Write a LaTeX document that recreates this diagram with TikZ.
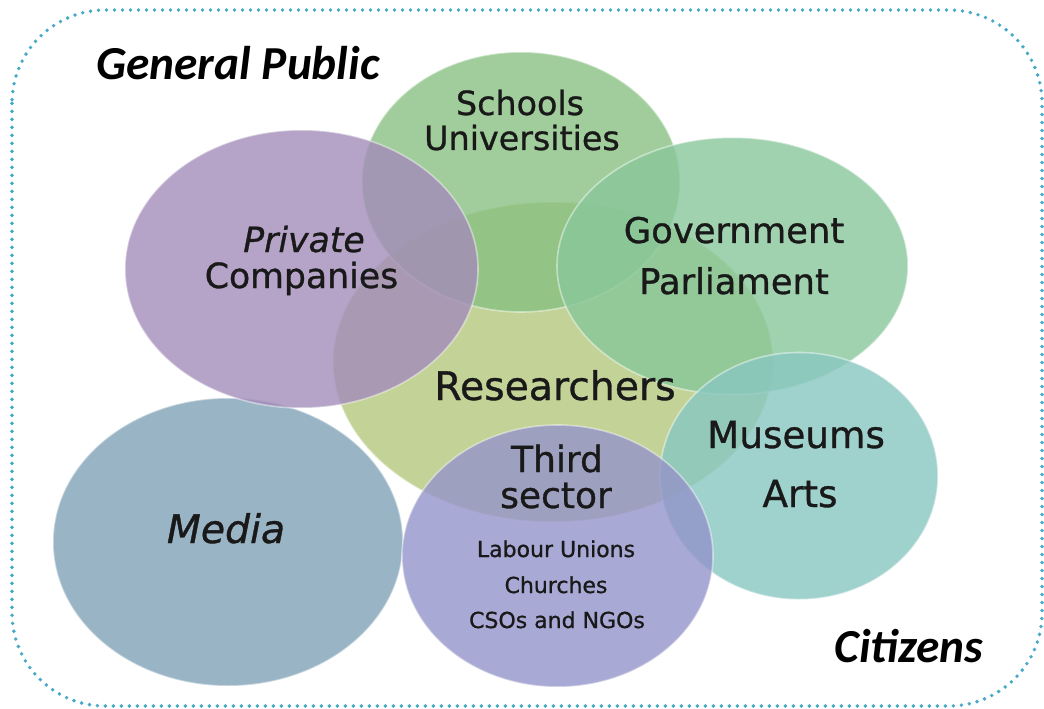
\documentclass[tikz,border=0pt]{standalone}
\usepackage{fontspec}
\setmainfont{DejaVu Sans}[FakeBold=0.9]
\newfontfamily\titlefont{Carlito}
\usetikzlibrary{shapes.geometric}
\definecolor{frameblue}{RGB}{72,170,200}
\definecolor{cMedia}{RGB}{128,162,182}
\definecolor{cPriv}{RGB}{163,140,186}
\definecolor{cSchool}{RGB}{136,193,130}
\definecolor{cRes}{RGB}{180,199,124}
\definecolor{cGov}{RGB}{136,199,155}
\definecolor{cMus}{RGB}{136,199,193}
\definecolor{cThird}{RGB}{148,148,202}
\definecolor{labeltext}{RGB}{25,25,25}
\tikzset{
  bubble/.style={ellipse, inner sep=0pt, outer sep=0pt, fill opacity=0.8,
    draw=white, draw opacity=0.45, line width=1.2pt},
  frameline/.style={draw=frameblue, line width=2.9pt, line cap=round,
    dash pattern=on 0pt off 6pt, rounded corners=70pt},
  title/.style={anchor=base, inner sep=0pt, font=\titlefont\bfseries\itshape\fontsize{35.5}{40}\selectfont},
  lbl/.style={anchor=base, inner sep=0pt, text=labeltext},
}
\begin{document}
\begin{tikzpicture}[x=0.75pt, y=-0.75pt]
\useasboundingbox (0,0) rectangle (1044,709);
\draw[frameline] (12,10) rectangle (1042,706);

% bubbles
\node[bubble, fill=cMedia, minimum width=262.5pt, minimum height=216pt] (media) at (228,542) {};
\node[bubble, fill=cRes, minimum width=330pt, minimum height=240pt] (res) at (553,362) {};
\node[bubble, fill=cSchool, minimum width=238.5pt, minimum height=195pt] (school) at (521,182) {};
\node[bubble, fill=cPriv, minimum width=264.75pt, minimum height=208.5pt] (priv) at (301.5,269) {};
\node[bubble, fill=cGov, minimum width=263.25pt, minimum height=192.75pt] (gov) at (732.5,266) {};
\node[bubble, fill=cMus, minimum width=208.5pt, minimum height=185.25pt] (mus) at (799,476) {};
\node[bubble, fill=cThird, minimum width=233.25pt, minimum height=196.5pt] (third) at (557.5,556) {};

% titles
\node[title] (gp) at (238,80) {General Public};
\node[title] (cit) at (909,662) {Citizens};

% labels
\node[lbl, font=\fontsize{25}{30}\selectfont] (l1) at (520,115) {Schools};
\node[lbl, font=\fontsize{25}{30}\selectfont] (l2) at (522,150) {Universities};
\node[lbl, font=\itshape\fontsize{26}{30}\selectfont] (l3) at (304,252) {Private};
\node[lbl, font=\fontsize{26}{30}\selectfont] (l4) at (301.5,288) {Companies};
\node[lbl, font=\fontsize{26.5}{30}\selectfont] (l5) at (734,243) {Government};
\node[lbl, font=\fontsize{26.5}{30}\selectfont] (l6) at (734,294) {Parliament};
\node[lbl, font=\fontsize{29.5}{34}\selectfont] (l7) at (555,400) {Researchers};
\node[lbl, font=\fontsize{28}{32}\selectfont] (l8) at (796,448) {Museums};
\node[lbl, font=\fontsize{28}{32}\selectfont] (l9) at (800,507) {Arts};
\node[lbl, font=\itshape\fontsize{29.5}{34}\selectfont] (l10) at (226,543) {Media};
\node[lbl, font=\fontsize{27}{32}\selectfont] (l11) at (557,472) {Third};
\node[lbl, font=\fontsize{27}{32}\selectfont] (l12) at (556,508) {sector};
\node[lbl, font=\fontsize{16.5}{20}\selectfont] (l13) at (556,557) {Labour Unions};
\node[lbl, font=\fontsize{16.5}{20}\selectfont] (l14) at (556,593) {Churches};
\node[lbl, font=\fontsize{16.5}{20}\selectfont] (l15) at (557,628) {CSOs and NGOs};
\end{tikzpicture}
\end{document}
